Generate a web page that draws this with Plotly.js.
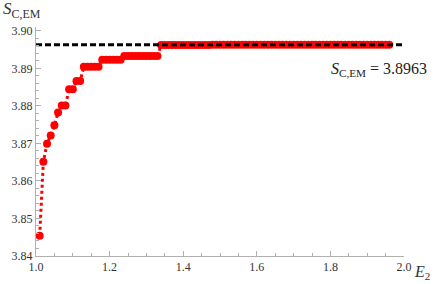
<!DOCTYPE html>
<html>
<head>
<meta charset="utf-8">
<script src="https://cdn.plot.ly/plotly-3.0.1.min.js"></script>
<style>html,body{margin:0;padding:0;background:#fff;}</style>
</head>
<body>
<div id="chart" style="width:436px;height:284px;"></div>
<script>
// Data
const E2 = [1.01,1.02,1.03,1.04,1.05,1.06,1.07,1.08,1.09,1.10,
            1.11,1.12,1.13,1.14,1.15,1.16,1.17,1.18,1.19,1.20,
            1.21,1.22,1.23,1.24,1.25,1.26,1.27,1.28,1.29,1.30,
            1.31,1.32,1.33,1.34,1.35,1.36,1.37,1.38,1.39,1.40,
            1.41,1.42,1.43,1.44,1.45,1.46,1.47,1.48,1.49,1.50,
            1.51,1.52,1.53,1.54,1.55,1.56,1.57,1.58,1.59,1.60,
            1.61,1.62,1.63,1.64,1.65,1.66,1.67,1.68,1.69,1.70,
            1.71,1.72,1.73,1.74,1.75,1.76,1.77,1.78,1.79,1.80,
            1.81,1.82,1.83,1.84,1.85,1.86,1.87,1.88,1.89,1.90,
            1.91,1.92,1.93,1.94,1.95,1.96];
const S_CEM = [3.8454,3.8651,3.8699,3.8721,3.8748,3.8782,3.8801,3.8801,3.8844,3.8844,
               3.8866,3.8866,3.8904,3.8904,3.8904,3.8904,3.8904,3.8923,3.8923,3.8923,
               3.8923,3.8923,3.8923,3.8933,3.8933,3.8933,3.8933,3.8933,3.8933,3.8933,
               3.8933,3.8933,3.8933,3.8962,3.8962,3.8962,3.8962,3.8962,3.8962,3.8962,
               3.8962,3.8962,3.8962,3.8962,3.8962,3.8962,3.8962,3.8963,3.8963,3.8963,
               3.8963,3.8963,3.8963,3.8963,3.8963,3.8963,3.8963,3.8963,3.8963,3.8963,
               3.8963,3.8963,3.8963,3.8963,3.8963,3.8963,3.8963,3.8963,3.8963,3.8963,
               3.8963,3.8963,3.8963,3.8963,3.8963,3.8963,3.8963,3.8963,3.8963,3.8963,
               3.8963,3.8963,3.8963,3.8963,3.8963,3.8963,3.8963,3.8963,3.8963,3.8963,
               3.8963,3.8963,3.8963,3.8963,3.8963,3.8963];
const limitX = [1.0, 2.0];
const limitValue = 3.8963;
const limitY = [limitValue, limitValue];
const xTickVals = [1.0, 1.2, 1.4, 1.6, 1.8, 2.0];
const xTickText = ["1.0","1.2","1.4","1.6","1.8","2.0"];
const yTickVals = [3.84, 3.85, 3.86, 3.87, 3.88, 3.89, 3.90];
const yTickText = ["3.84","3.85","3.86","3.87","3.88","3.89","3.90"];

const axisColor = '#b0b0b0';
const serif = "'Liberation Serif', 'Times New Roman', 'DejaVu Serif', serif";
const textFont = {family: serif, size: 12, color: '#333'};

const traces = [
  {
    x: E2, y: S_CEM, type: 'scatter', mode: 'lines+markers',
    line: {color: '#ff0000', width: 3, dash: 'dot'},
    marker: {color: '#ff0000', size: 8},
    cliponaxis: false, hoverinfo: 'skip'
  },
  {
    x: limitX, y: limitY, type: 'scatter', mode: 'lines',
    line: {color: '#000000', width: 3, dash: '6px,3px'},
    cliponaxis: false, hoverinfo: 'skip'
  }
];

const layout = {
  width: 436, height: 284,
  margin: {l: 36, r: 32, t: 27, b: 28, pad: 0},
  paper_bgcolor: '#fff', plot_bgcolor: '#fff',
  showlegend: false,
  font: {family: serif, size: 12, color: '#333'},
  xaxis: {
    range: [1.0, 2.0], showgrid: false, zeroline: false,
    showline: true, linecolor: axisColor, linewidth: 1,
    ticks: 'inside', ticklen: 5, tickcolor: axisColor, tickwidth: 1,
    tickmode: 'array', tickvals: xTickVals, ticktext: xTickText,
    minor: {dtick: 0.05, tick0: 1.0, ticks: 'inside', ticklen: 3, tickcolor: axisColor, showgrid: false},
    tickfont: textFont
  },
  yaxis: {
    range: [3.84, 3.901], showgrid: false, zeroline: false,
    showline: true, linecolor: axisColor, linewidth: 1,
    ticks: 'inside', ticklen: 5, tickcolor: axisColor, tickwidth: 1,
    tickmode: 'array', tickvals: yTickVals, ticktext: yTickText,
    minor: {dtick: 0.002, tick0: 3.84, ticks: 'inside', ticklen: 3, tickcolor: axisColor, showgrid: false},
    tickfont: textFont
  },
  annotations: [
    {
      xref: 'paper', yref: 'paper', x: -0.095, y: 1.075,
      xanchor: 'left', yanchor: 'middle', showarrow: false,
      text: '<i>S</i><sub>C,EM</sub>',
      font: {family: serif, size: 17, color: '#333'}
    },
    {
      xref: 'paper', yref: 'paper', x: 1.022, y: -0.07,
      xanchor: 'left', yanchor: 'middle', showarrow: false,
      text: '<i>E</i><sub>2</sub>',
      font: {family: serif, size: 16, color: '#333'}
    },
    {
      xref: 'paper', yref: 'paper', x: 0.797, y: 0.815,
      xanchor: 'left', yanchor: 'middle', showarrow: false,
      text: '<i>S</i><sub>C,EM</sub> = ' + limitValue.toFixed(4),
      font: {family: serif, size: 16, color: '#222'}
    }
  ]
};

Plotly.newPlot('chart', traces, layout, {displayModeBar: false, staticPlot: true});
</script>
</body>
</html>
